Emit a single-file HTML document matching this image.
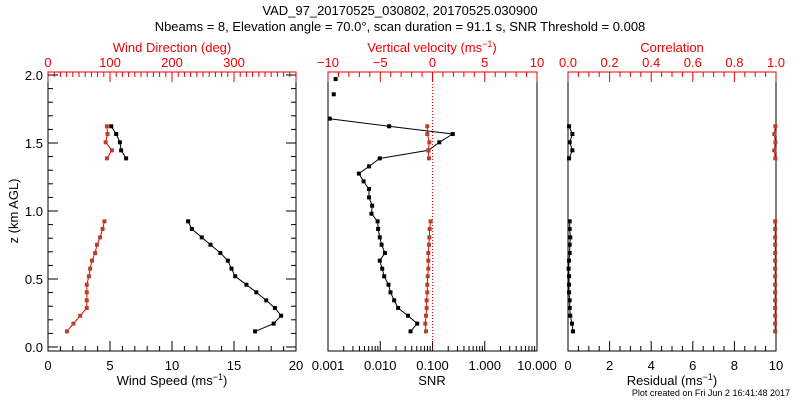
<!DOCTYPE html>
<html><head><meta charset="utf-8">
<style>
html,body{margin:0;padding:0;background:#fff;}
svg{display:block;font-family:"Liberation Sans",sans-serif;}
</style></head>
<body>
<svg id="c" width="800" height="400" xmlns="http://www.w3.org/2000/svg">
<text x="400" y="15" font-size="13" text-anchor="middle">VAD_97_20170525_030802, 20170525.030900</text>
<text x="400" y="31" font-size="13" text-anchor="middle">Nbeams = 8, Elevation angle = 70.0°, scan duration = 91.1 s, SNR Threshold = 0.008</text>
<text x="18" y="211" font-size="13" text-anchor="middle" transform="rotate(-90 18 211)">z (km AGL)</text>
<text x="172" y="385" font-size="13" text-anchor="middle">Wind Speed (ms<tspan font-size="9" dy="-5">−1</tspan><tspan dy="5">)</tspan></text>
<text x="172" y="52" font-size="13" text-anchor="middle" fill="#e00">Wind Direction (deg)</text>
<text x="432" y="385" font-size="13" text-anchor="middle">SNR</text>
<text x="432" y="52" font-size="13" text-anchor="middle" fill="#e00">Vertical velocity (ms<tspan font-size="9" dy="-5">−1</tspan><tspan dy="5">)</tspan></text>
<text x="672" y="385" font-size="13" text-anchor="middle">Residual (ms<tspan font-size="9" dy="-5">−1</tspan><tspan dy="5">)</tspan></text>
<text x="672" y="52" font-size="13" text-anchor="middle" fill="#e00">Correlation</text>
<text x="790" y="396" font-size="9" text-anchor="end">Plot created on Fri Jun  2 16:41:48 2017</text>
<g id="g"></g>
</svg>
<script>
const zLow = [0.115,0.172,0.23,0.287,0.343,0.402,0.458,0.52,0.576,0.635,0.691,0.752,0.806,0.868,0.924];
const zHigh = [1.387,1.446,1.505,1.566,1.623];
const speedLow = [16.7,18.2,18.8,18.3,17.6,16.8,16.0,15.1,14.8,14.5,13.9,13.1,12.4,11.6,11.3];
const speedHigh = [6.3,5.9,5.8,5.5,5.1];
const dirLow = [30.5,41,52,62.5,62.5,62.5,62.5,66,68,71,76,79,84,88,91];
const dirHigh = [95,103,93,96,95];
const wLow = [-0.62,-0.69,-0.62,-0.56,-0.56,-0.5,-0.5,-0.46,-0.4,-0.4,-0.4,-0.34,-0.3,-0.27,-0.18];
const wHigh = [-0.34,-0.4,-0.3,-0.5,-0.5];
const snrZ = [0.115,0.172,0.23,0.287,0.343,0.402,0.458,0.52,0.576,0.635,0.691,0.752,0.806,0.868,0.924,0.98,1.039,1.1,1.162,1.218,1.275,1.328,1.387,1.446,1.505,1.566,1.623,1.679];
const snrVals = [0.038,0.051,0.034,0.022,0.0185,0.0157,0.0144,0.0119,0.0109,0.0098,0.0123,0.0106,0.0098,0.0091,0.0089,0.0068,0.0070,0.0061,0.0061,0.0048,0.0039,0.0061,0.0098,0.084,0.135,0.244,0.0148,0.00108];
const snrIsoZ = [1.858,1.97];
const snrIsoVals = [0.00129,0.00140];
const resLow = [0.24,0.19,0.11,0.08,0.08,0.05,0.05,0.05,0.03,0.05,0.08,0.08,0.11,0.08,0.08];
const resHigh = [0.05,0.21,0.08,0.21,0.05];
const corrLow = [0.996,0.996,0.996,0.996,0.996,0.996,0.996,0.996,0.996,0.996,0.996,0.996,0.996,0.996,0.996];
const corrHigh = [0.997,0.992,0.997,0.992,0.997];
const speedTicks = ["0","5","10","15","20"];
const dirTicks = ["0","100","200","300"];
const zTicks = ["0.0","0.5","1.0","1.5","2.0"];
const snrTicks = ["0.001","0.010","0.100","1.000","10.000"];
const wTicks = ["−10","−5","0","5","10"];
const resTicks = ["0","2","4","6","8","10"];
const corrTicks = ["0.0","0.2","0.4","0.6","0.8","1.0"];

const NS="http://www.w3.org/2000/svg", G=document.getElementById('g');
const RED="#e00", BROWN="#b5402e";
function mk(t,a,p){const e=document.createElementNS(NS,t);for(const k in a)e.setAttribute(k,a[k]);(p||G).appendChild(e);return e;}
const TOP=72,BOT=351;
const yS=z=>347-z*136;
const P1={x0:48,x1:296},P2={x0:328,x1:537},P3={x0:568,x1:776};
const xSpeed=v=>P1.x0+v/20*(P1.x1-P1.x0);
const xDir=v=>P1.x0+v/400*(P1.x1-P1.x0);
const xSnr=v=>P2.x0+(Math.log10(v)+3)/4*(P2.x1-P2.x0);
const xW=v=>P2.x0+(v+10)/20*(P2.x1-P2.x0);
const xRes=v=>P3.x0+v/10*(P3.x1-P3.x0);
const xCorr=v=>P3.x0+v*(P3.x1-P3.x0);

function box(P,name){const r=mk('rect',{x:P.x0,y:TOP,width:P.x1-P.x0,height:BOT-TOP,fill:'none',stroke:'#000','stroke-width':1});
}
box(P1,'wind-panel');box(P2,'snr-panel');box(P3,'residual-panel');

function tick(x1,y1,x2,y2,c){const l=mk('line',{x1,y1,x2,y2,stroke:c,'stroke-width':1});
}
function label(x,y,s,c,anchor){const t=mk('text',{x,y,'font-size':13,fill:c,'text-anchor':anchor||'middle'});t.textContent=s;
}

// Panel 1 bottom: speed
for(let v=0;v<=20;v++){const x=xSpeed(v);tick(x,BOT,x,BOT-(v%5?5:10),'#000');}
speedTicks.forEach(s=>label(xSpeed(+s),370,s,'#000'));
// top: direction
mk('line',{x1:P1.x0,y1:TOP,x2:P1.x1,y2:TOP,stroke:RED});
for(let v=0;v<=400;v+=10){const x=xDir(v);tick(x,TOP,x,TOP+(v%100?5:10),RED);}
dirTicks.forEach(s=>label(xDir(+s),67,s,RED));
// y ticks
for(let i=0;i<=20;i++){const y=yS(i/10),L=i%5?5:10;tick(P1.x0,y,P1.x0+L,y,'#000');tick(P1.x1,y,P1.x1-L,y,'#000');}
zTicks.forEach(s=>label(43,yS(+s)+5,s,'#000','end'));

// Panel 2 bottom log ticks
for(let d=-3;d<1;d++){for(let m=1;m<=9;m++){const v=m*Math.pow(10,d);const x=xSnr(v);tick(x,BOT,x,BOT-(m==1?10:5),'#000');}}
tick(P2.x1,BOT,P2.x1,BOT-10,'#000');
snrTicks.forEach(s=>label(xSnr(+s),370,s,'#000'));
mk('line',{x1:P2.x0,y1:TOP,x2:P2.x1,y2:TOP,stroke:RED});
for(let v=-10;v<=10;v++){const x=xW(v);tick(x,TOP,x,TOP+(v%5?5:10),RED);}
wTicks.forEach(s=>label(xW(+s.replace('−','-')),67,s,RED));
const zl=mk('line',{x1:xW(0),y1:TOP,x2:xW(0),y2:BOT,stroke:RED,'stroke-dasharray':'1,2'});


// Panel 3
for(let v=0;v<=10;v+=0.5){const x=xRes(v);tick(x,BOT,x,BOT-(v%2?5:10),'#000');}
resTicks.forEach(s=>label(xRes(+s),370,s,'#000'));
mk('line',{x1:P3.x0,y1:TOP,x2:P3.x1,y2:TOP,stroke:RED});
for(let i=0;i<=20;i++){const x=xCorr(i/20);tick(x,TOP,x,TOP+(i%4?5:10),RED);}
corrTicks.forEach(s=>label(xCorr(+s),67,s,RED));

function series(xs,zs,xf,lc,mc,name,line){
  if(line!==false){const pts=xs.map((v,i)=>xf(v).toFixed(1)+','+yS(zs[i]).toFixed(1)).join(' ');
  const pl=mk('polyline',{points:pts,fill:'none',stroke:lc,'stroke-width':1});
  }
  xs.forEach((v,i)=>{const m=mk('rect',{x:xf(v)-2,y:yS(zs[i])-2,width:4,height:4,fill:mc});
  });
}
series(speedLow,zLow,xSpeed,'#000','#000','wind-speed-low');
series(speedHigh,zHigh,xSpeed,'#000','#000','wind-speed-high');
series(dirLow,zLow,xDir,RED,BROWN,'wind-direction-low');
series(dirHigh,zHigh,xDir,RED,BROWN,'wind-direction-high');
series(snrVals,snrZ,xSnr,'#000','#000','snr');
series(snrIsoVals,snrIsoZ,xSnr,'#000','#000','snr-isolated',false);
series(wLow,zLow,xW,RED,BROWN,'vertical-velocity-low');
series(wHigh,zHigh,xW,RED,BROWN,'vertical-velocity-high');
series(resLow,zLow,xRes,'#000','#000','residual-low');
series(resHigh,zHigh,xRes,'#000','#000','residual-high');
series(corrLow,zLow,xCorr,RED,BROWN,'correlation-low');
series(corrHigh,zHigh,xCorr,RED,BROWN,'correlation-high');
</script>
</body></html>
